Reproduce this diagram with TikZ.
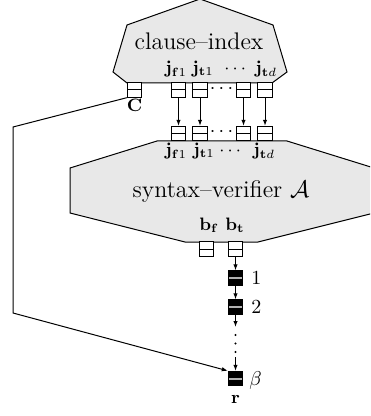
\documentclass[tikz,border=0pt]{standalone}
\usetikzlibrary{arrows.meta}
\begin{document}
\begin{tikzpicture}[x=0.5pt,y=-0.5pt,
  reg/.style={draw, fill=white, line width=0.5pt, minimum width=7.2pt, minimum height=7.2pt, inner sep=0pt,
    path picture={\draw[line width=0.5pt] (path picture bounding box.west) -- (path picture bounding box.east);}},
  breg/.style={draw, fill=black, line width=0.5pt, minimum width=7.2pt, minimum height=7.2pt, inner sep=0pt,
    path picture={\draw[line width=1pt, gray!60] (path picture bounding box.west) -- (path picture bounding box.east);}},
  blk/.style={draw, fill=gray!18, line width=0.5pt},
  arr/.style={-{Latex[length=3pt,width=2.2pt]}, line width=0.5pt},
  lbl/.style={inner sep=0pt, font=\small},
  num/.style={inner sep=0pt, font=\normalsize}]
\useasboundingbox (0,0) rectangle (370,416);
\clip (0,0) rectangle (370,416);
% clause-index
\path[blk] (200,-1) -- (273,25) -- (287,72) -- (272,83) -- (127,83) -- (113,72) -- (127,25) -- cycle;
\node[inner sep=0pt, font=\large] (ci) at (199,41) {clause--index};
% syntax-verifier
\path[blk] (157,141) -- (287,141) -- (374,168) -- (374,213) -- (258,242) -- (185,242) -- (70,213) -- (70,168) -- cycle;
\node[inner sep=0pt, font=\large] (sv) at (221,192) {syntax--verifier $\mathcal{A}$};
% top registers
\node[reg] (C) at (134.5,90) {};
\node[reg] (a1) at (178.5,90) {};
\node[reg] (a2) at (200,90) {};
\node[reg] (a3) at (243.5,90) {};
\node[reg] (a4) at (265,90) {};
\node[inner sep=0pt] (ad) at (221.5,89) {$\cdots$};
\node[lbl, anchor=base west] (lj1) at (165,74) {$\mathbf{j}_{\mathbf{f}1}$};
\node[lbl, anchor=base west] (lj2) at (192,74) {$\mathbf{j}_{\mathbf{t}1}$};
\node[lbl, anchor=base west] (ljd) at (224,74) {$\cdots$};
\node[lbl, anchor=base west] (lj3) at (255,74) {$\mathbf{j}_{\mathbf{t}d}$};
\node[lbl] (lC) at (134.5,105) {$\mathbf{C}$};
% verifier input registers
\node[reg] (v1) at (178.5,133.5) {};
\node[reg] (v2) at (200,133.5) {};
\node[reg] (v3) at (243.5,133.5) {};
\node[reg] (v4) at (265,133.5) {};
\node[inner sep=0pt] (vd) at (221.5,132.5) {$\cdots$};
\node[lbl, anchor=base west] (lv1) at (165,156) {$\mathbf{j}_{\mathbf{f}1}$};
\node[lbl, anchor=base west] (lv2) at (193,156) {$\mathbf{j}_{\mathbf{t}1}$};
\node[lbl, anchor=base west] (lvd) at (219,156) {$\cdots$};
\node[lbl, anchor=base west] (lv3) at (253,156) {$\mathbf{j}_{\mathbf{t}d}$};
\draw[arr] (a1.south) -- (v1.north);
\draw[arr] (a2.south) -- (v2.north);
\draw[arr] (a3.south) -- (v3.north);
\draw[arr] (a4.south) -- (v4.north);
% verifier outputs
\node[lbl, anchor=base west] (lbf) at (199,230) {$\mathbf{b}_{\mathbf{f}}$};
\node[lbl, anchor=base west] (lbt) at (225,230) {$\mathbf{b}_{\mathbf{t}}$};
\node[reg] (bf) at (206.5,249) {};
\node[reg] (bt) at (235.5,249) {};
% chain
\node[breg] (k1) at (235.5,278) {};
\node[breg] (k2) at (235.5,307) {};
\node[breg] (beta) at (235.5,378.5) {};
\node[num, anchor=west] (n1) at (251,278) {$1$};
\node[num, anchor=west] (n2) at (251,307) {$2$};
\node[num, anchor=west] (nb) at (249,380) {$\beta$};
\node[lbl] (lr) at (235.5,399) {$\mathbf{r}$};
\draw[arr] (bt.south) -- (k1.north);
\draw[arr] (k1.south) -- (k2.north);
\coordinate (d1) at (235.5,327);
\coordinate (d2) at (235.5,357);
\draw[arr] (k2.south) -- (d1);
\draw[arr] (d2) -- (beta.north);
\fill (235.5,335) circle (1.1);
\fill (235.5,343.5) circle (1.1);
\fill (235.5,352) circle (1.1);
% C connection
\coordinate (c1) at (13,127);
\coordinate (c2) at (13,313);
\draw[arr] (C.south west) -- (c1) -- (c2) -- (beta.north west);
\end{tikzpicture}
\end{document}
